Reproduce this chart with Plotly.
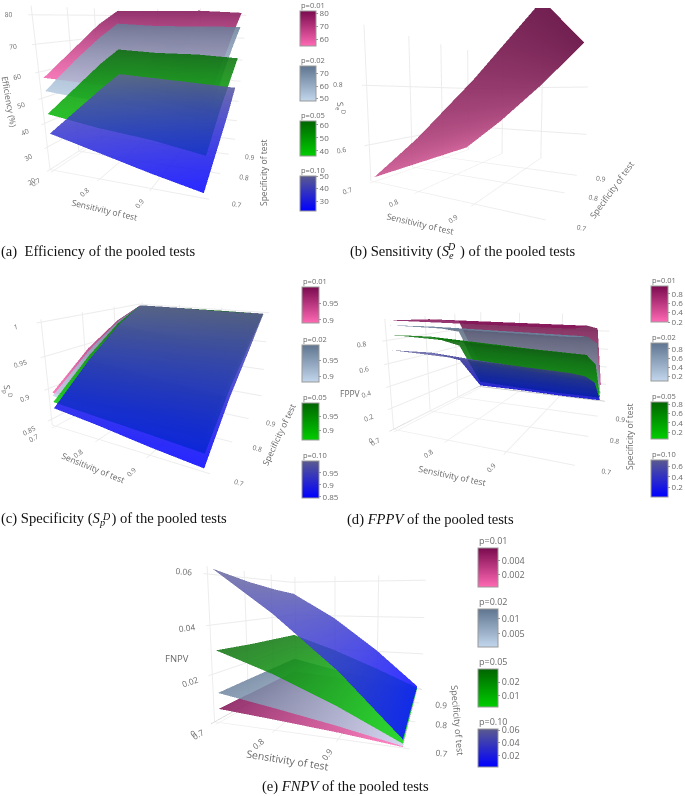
"""Pooled-test performance surfaces, five 3D panels."""
import plotly.graph_objects as go

W, H = 685, 796

SENS = [0.7, 0.8, 0.9, 0.99]
SPEC = [0.7, 0.8, 0.9, 0.99]
AXIS_TICKS = [0.7, 0.8, 0.9]

# rows follow SPEC, columns follow SENS
EFF_P01 = [[58, 57, 56, 55], [67, 66, 65, 65], [76, 75, 75, 74], [82, 82, 82, 81]]
EFF_P02 = [[53, 51, 50, 48], [62, 61, 60, 59], [70, 69, 69, 68], [76, 75, 75, 75]]
EFF_P05 = [[44, 41, 39, 36], [51, 49, 47, 46], [58, 56, 55, 54], [63, 62, 62, 61]]
EFF_P10 = [[36, 31, 26, 22], [41, 37, 33, 30], [46, 43, 40, 38], [50, 49, 48, 47]]

SE_POOL = [[0.49, 0.64, 0.81, 0.98], [0.49, 0.64, 0.81, 0.98],
           [0.49, 0.64, 0.81, 0.98], [0.49, 0.64, 0.81, 0.98]]

SP_P01 = [[0.895, 0.893, 0.891, 0.89], [0.945, 0.943, 0.94, 0.938], [0.98, 0.978, 0.976, 0.975], [0.999, 0.999, 0.999, 0.999]]
SP_P02 = [[0.89, 0.887, 0.884, 0.882], [0.94, 0.937, 0.935, 0.932], [0.978, 0.975, 0.973, 0.97], [0.999, 0.999, 0.999, 0.999]]
SP_P05 = [[0.88, 0.875, 0.87, 0.865], [0.932, 0.928, 0.924, 0.92], [0.974, 0.97, 0.966, 0.962], [0.999, 0.999, 0.999, 0.998]]
SP_P10 = [[0.87, 0.862, 0.852, 0.845], [0.925, 0.918, 0.91, 0.905], [0.97, 0.964, 0.958, 0.953], [0.999, 0.999, 0.998, 0.998]]

FP_P01 = [[0.97, 0.965, 0.96, 0.955], [0.95, 0.945, 0.94, 0.935], [0.9, 0.89, 0.88, 0.87], [0.3, 0.26, 0.23, 0.2]]
FP_P02 = [[0.93, 0.92, 0.91, 0.9], [0.88, 0.87, 0.86, 0.85], [0.78, 0.76, 0.74, 0.73], [0.15, 0.13, 0.12, 0.1]]
FP_P05 = [[0.85, 0.83, 0.81, 0.79], [0.78, 0.75, 0.72, 0.7], [0.62, 0.58, 0.55, 0.52], [0.08, 0.06, 0.05, 0.05]]
FP_P10 = [[0.72, 0.7, 0.68, 0.66], [0.62, 0.58, 0.55, 0.52], [0.45, 0.4, 0.37, 0.34], [0.03, 0.03, 0.02, 0.02]]

FN_P01 = [[0.0058, 0.0042, 0.0024, 0.0003], [0.0056, 0.004, 0.0022, 0.0003], [0.0054, 0.0038, 0.0021, 0.0002], [0.0052, 0.0037, 0.002, 0.0002]]
FN_P02 = [[0.0125, 0.0088, 0.0048, 0.0006], [0.0128, 0.0085, 0.0046, 0.0006], [0.013, 0.0083, 0.0045, 0.0005], [0.0132, 0.0082, 0.0044, 0.0005]]
FN_P05 = [[0.03, 0.022, 0.012, 0.0015], [0.029, 0.021, 0.0115, 0.0014], [0.0285, 0.0205, 0.011, 0.0013], [0.028, 0.02, 0.0105, 0.0012]]
FN_P10 = [[0.062, 0.045, 0.025, 0.003], [0.058, 0.042, 0.023, 0.003], [0.055, 0.04, 0.022, 0.0025], [0.053, 0.039, 0.021, 0.002]]

P_LABELS = ["p=0.01", "p=0.02", "p=0.05", "p=0.10"]
SCALES = [
    [[0, "#ff69b4"], [1, "#7a0a4e"]],
    [[0, "#c2d7ec"], [1, "#5f7590"]],
    [[0, "#00cd00"], [1, "#006400"]],
    [[0, "#0000ff"], [1, "#5a5a8f"]],
]

A_TICKS = [[60, 70, 80], [50, 60, 70], [40, 50, 60], [30, 40, 50]]
C_TICKS = [[0.9, 0.95], [0.9, 0.95], [0.9, 0.95], [0.85, 0.9, 0.95]]
D_TICKS = [[0.2, 0.4, 0.6, 0.8], [0.2, 0.4, 0.6, 0.8], [0.2, 0.4, 0.6, 0.8], [0.2, 0.4, 0.6]]
E_TICKS = [[0.002, 0.004], [0.005, 0.01], [0.01, 0.02], [0.02, 0.04, 0.06]]

GREY = "#6a6a6a"
fig = go.Figure()


def add_panel(scene, zs, bars, bar_x, thick, ticks, cb_font=8):
    """One surface per prevalence, each with its own little colorbar."""
    for i, z in enumerate(zs):
        y0, y1 = bars[i]
        fig.add_trace(go.Surface(
            x=SENS, y=SPEC, z=z, colorscale=SCALES[i], opacity=0.85, scene=scene,
            colorbar=dict(x=bar_x / W, xanchor="left", xpad=0, ypad=0, y=1 - y1 / H, yanchor="bottom",
                          len=y1 - y0, lenmode="pixels", thickness=thick, thicknessmode="pixels",
                          tickvals=ticks[i], ticks="outside", ticklen=2, tickcolor="#999999",
                          tickfont=dict(size=cb_font, color=GREY), outlinecolor="#999999", outlinewidth=1)))
        # label goes above the bar as a plain annotation, the colorbar title leaves too big a gap
        fig.add_annotation(text=P_LABELS[i], x=(bar_x - 1) / W, y=1 - (y0 - (8 if cb_font > 8 else 6)) / H,
                           xref="paper", yref="paper", xanchor="left", yanchor="middle", showarrow=False,
                           font=dict(size=cb_font if cb_font > 8 else 7.5, color=GREY))


add_panel("scene", [EFF_P01, EFF_P02, EFF_P05, EFF_P10],
          [(11, 46), (66, 101), (121, 156), (176, 211)], 300, 16, A_TICKS)
fig.add_trace(go.Surface(x=SENS, y=SPEC, z=SE_POOL, colorscale=SCALES[0], opacity=0.9, scene="scene2", showscale=False))
add_panel("scene3", [SP_P01, SP_P02, SP_P05, SP_P10],
          [(287, 323), (345, 382), (403, 440), (461, 498)], 302, 17, C_TICKS)
add_panel("scene4", [FP_P01, FP_P02, FP_P05, FP_P10],
          [(286, 322), (343, 381), (402, 439), (460, 497)], 651, 17, D_TICKS)
add_panel("scene5", [FN_P01, FN_P02, FN_P05, FN_P10],
          [(548, 587), (609, 647), (669, 707), (729, 767)], 478, 20, E_TICKS, 9)


def axis(tickvals=None, size=9):
    ax = dict(title=dict(text=""), tickfont=dict(size=size, color=GREY), gridcolor="#ececec",
              showbackground=False, showspikes=False, zerolinecolor="#b5b5b5")
    if tickvals:
        ax["tickvals"] = tickvals
    return ax


def scene(px, eye, zcen, aspect_z, zticks, zrange=None, size=9):
    x0, y0, x1, y1 = px
    zax = axis(zticks, size)
    if zrange:
        zax["range"] = zrange
    return dict(domain=dict(x=[x0 / W, x1 / W], y=[1 - y1 / H, 1 - y0 / H]),
                camera=dict(eye=dict(x=eye[0], y=eye[1], z=eye[2]), center=dict(x=0, y=0, z=zcen)),
                aspectmode="manual", aspectratio=dict(x=1, y=1, z=aspect_z),
                xaxis=axis(AXIS_TICKS, size), yaxis=axis(AXIS_TICKS, size), zaxis=zax)


fig.update_layout(
    width=W, height=H, margin=dict(l=0, r=0, t=0, b=0), paper_bgcolor="white",
    font=dict(family="Open Sans"),
    scene=scene((0, 0, 304, 276), (0.77, -2.0, 0.42), -0.36, 0.95, [20, 30, 40, 50, 60, 70, 80], [20, 83]),
    scene2=scene((322, 8, 656, 232), (0.78, -1.46, 0.063), -0.1, 0.85, [0.6, 0.8]),
    scene3=scene((0, 228, 328, 504), (0.95, -1.72, 0.6), 0, 0.63, [0.85, 0.9, 0.95, 1]),
    scene4=scene((345, 233, 677, 501), (0.75, -1.75, 0.4), 0, 0.6, [0, 0.2, 0.4, 0.6, 0.8], [0, 0.98]),
    scene5=scene((140, 503, 526, 775), (0.6, -1.85, 0.25), 0, 0.8, [0, 0.02, 0.04, 0.06], [0, 0.063], 10),
)

# axis titles sit at fixed spots beside each 3D box: text, centre x, centre y, angle, size
AXIS_TITLES = [
    ("Sensitivity of test", 104, 210, 13, 8.5), ("Specificity of test", 263, 173, -90, 8.5), ("Efficiency (%)", 9, 102, 80, 8.5),
    ("Sensitivity of test", 420, 224, 13, 8.7), ("Specificity of test", 612, 190, -54, 8.7), ("S<sub>e</sub><sup>D</sup>", 341, 108, 85, 8.5),
    ("Sensitivity of test", 93, 467, 22, 8.5), ("Specificity of test", 279, 435, -65, 8.5), ("S<sub>p</sub><sup>D</sup>", 8, 392, 85, 8.5),
    ("Sensitivity of test", 452, 476, 12, 8.7), ("Specificity of test", 629, 437, -90, 8.5), ("FPPV", 350, 393, 0, 8.5),
    ("Sensitivity of test", 287, 760, 9, 10.5), ("Specificity of test", 458, 720, 85, 9), ("FNPV", 177, 658, 0, 9.5),
]
for text, x, y, angle, size in AXIS_TITLES:
    fig.add_annotation(text=text, x=x / W, y=1 - y / H, xref="paper", yref="paper", xanchor="center", yanchor="middle",
                       textangle=angle, showarrow=False, font=dict(size=size, color=GREY))

CAPTIONS = [
    ("(a)  Efficiency of the pooled tests", -1, 252),
    ("(b) Sensitivity (<i>S</i><sub><i>e</i></sub>&nbsp;&#8201;) of the pooled tests", 348, 252),
    ("(c) Specificity (<i>S</i><sub><i>p</i></sub>&nbsp;&#8201;) of the pooled tests", -1, 519),
    ("(d) <i>FPPV</i> of the pooled tests", 345, 519),
    ("(e) <i>FNPV</i> of the pooled tests", 260, 786),
]
for text, x, y in CAPTIONS:
    fig.add_annotation(text=text, x=x / W, y=1 - y / H, xref="paper", yref="paper", xanchor="left",
                       yanchor="middle", showarrow=False, font=dict(family="Liberation Serif", size=14.6, color="#111111"))
for x, y in [(451, 246), (106, 516)]:
    fig.add_annotation(text="<i>D</i>", x=x / W, y=1 - y / H, xref="paper", yref="paper", xanchor="center", yanchor="middle",
                       showarrow=False, font=dict(family="Liberation Serif", size=10, color="#111111"))

fig.write_html("out.html", config=dict(displayModeBar=False), post_script="document.body.style.margin='0';")
